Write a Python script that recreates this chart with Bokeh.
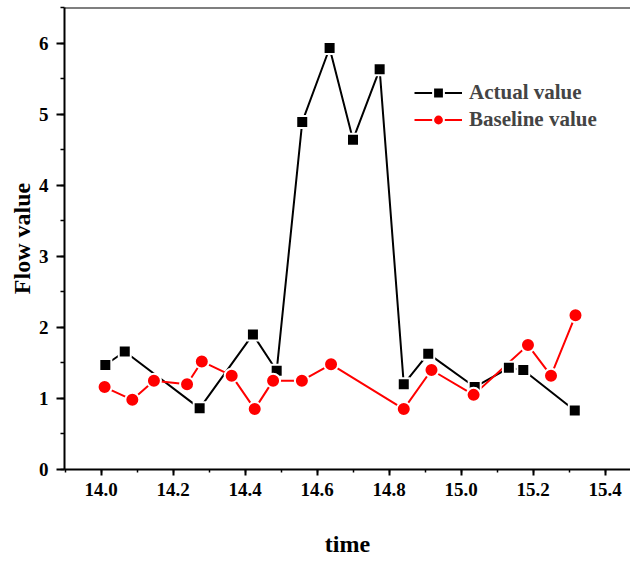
from bokeh.plotting import figure
from bokeh.models import (Range1d, SingleIntervalTicker, Span,
                          NumeralTickFormatter, Legend, LegendItem)
from bokeh.embed import file_html
from bokeh.resources import INLINE

actual_x = [14.012, 14.066, 14.274, 14.422, 14.488, 14.559, 14.635, 14.700,
            14.774, 14.841, 14.909, 15.038, 15.133, 15.173, 15.316]
actual_y = [1.47, 1.66, 0.86, 1.90, 1.39, 4.89, 5.93, 4.64,
            5.63, 1.20, 1.63, 1.16, 1.43, 1.40, 0.83]

base_x = [14.010, 14.087, 14.147, 14.239, 14.280, 14.363, 14.427, 14.478,
          14.558, 14.639, 14.841, 14.918, 15.035, 15.186, 15.250, 15.318]
base_y = [1.16, 0.98, 1.25, 1.20, 1.52, 1.32, 0.85, 1.25,
          1.25, 1.48, 0.85, 1.40, 1.05, 1.75, 1.32, 2.17]

labels = ["Actual value", "Baseline value"]
x_title = "time"
y_title = "Flow value"

FONT = "Liberation Serif"

p = figure(width=630, height=561, output_backend="svg", toolbar_location=None,
           x_range=Range1d(13.8986, 15.4708), y_range=Range1d(0, 6.5),
           min_border_left=64, min_border_right=0, min_border_top=7,
           min_border_bottom=92)
p.grid.visible = False
p.outline_line_color = None
p.background_fill_color = "white"

for ax in (p.xaxis[0], p.yaxis[0]):
    ax.axis_line_width = 2
    ax.major_tick_line_width = 2
    ax.minor_tick_line_width = 1.5
    ax.major_tick_in = 0
    ax.minor_tick_in = 0
    ax.major_label_text_font = FONT
    ax.major_label_text_font_style = "bold"
    ax.major_label_text_font_size = "19px"
    ax.major_label_text_color = "black"
    ax.axis_label_text_font = FONT
    ax.axis_label_text_font_style = "bold"
    ax.axis_label_text_font_size = "24px"
    ax.axis_label_text_color = "black"

p.xaxis[0].ticker = SingleIntervalTicker(interval=0.2, num_minor_ticks=2)
p.xaxis[0].formatter = NumeralTickFormatter(format="0.0")
p.xaxis[0].major_tick_out = 6
p.xaxis[0].minor_tick_out = 3
p.xaxis[0].major_label_standoff = 7
p.xaxis[0].axis_label = x_title
p.xaxis[0].axis_label_standoff = 32

p.yaxis[0].ticker = SingleIntervalTicker(interval=1, num_minor_ticks=2)
p.yaxis[0].major_tick_out = 8
p.yaxis[0].minor_tick_out = 4
p.yaxis[0].major_label_standoff = 8
p.yaxis[0].axis_label = y_title
p.yaxis[0].axis_label_standoff = 1

p.add_layout(Span(location=6.5, dimension="width", line_color="black",
                  line_width=2))

l1 = p.line(actual_x, actual_y, line_color="black", line_width=2)
l2 = p.line(base_x, base_y, line_color="red", line_width=2)
m1 = p.scatter(actual_x, actual_y, marker="square", size=12,
               fill_color="black", line_color="white", line_width=2)
m2 = p.scatter(base_x, base_y, marker="circle", size=14,
               fill_color="red", line_color="white", line_width=2)

legend = Legend(items=[LegendItem(label=labels[0], renderers=[l1, m1]),
                       LegendItem(label=labels[1], renderers=[l2, m2])],
                location=(350, 336), glyph_width=48, glyph_height=27,
                label_height=27, spacing=0, padding=0, label_standoff=7,
                border_line_color=None, background_fill_alpha=0,
                label_text_font=FONT, label_text_font_style="bold",
                label_text_font_size="21px", margin=0)
p.add_layout(legend)

open("out.html", "w").write(file_html(p, INLINE))
